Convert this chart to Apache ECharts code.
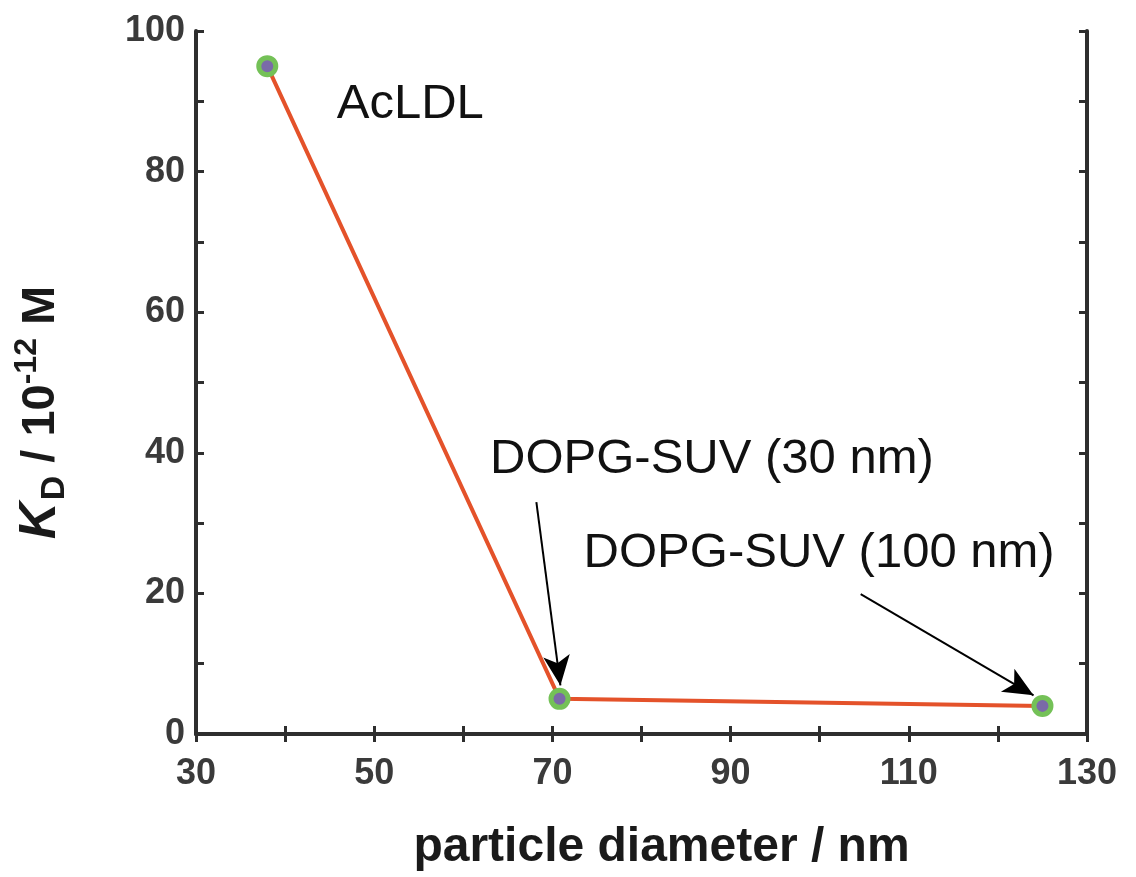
<!DOCTYPE html>
<html><head><meta charset="utf-8">
<script src="https://cdn.jsdelivr.net/npm/echarts@6/dist/echarts.min.js"></script>
<style>html,body{margin:0;padding:0;background:#fff}#c{width:1136px;height:877px}</style>
</head><body><div id="c"></div>
<script>
// Data
const diameters = [38, 70.8, 125];
const kdValues = [95, 5, 4];
const xTicks = [30, 50, 70, 90, 110, 130];
const yTicks = [0, 20, 40, 60, 80, 100];
const annotations = [
  { text: 'AcLDL', x: 45.8, y: 89.5 },
  { text: 'DOPG-SUV (30 nm)', x: 63.0, y: 39.1 },
  { text: 'DOPG-SUV (100 nm)', x: 73.5, y: 25.7 }
];
const arrows = [
  { from: [68.2, 33.0], to: [70.9, 6.9] },
  { from: [104.6, 19.9], to: [124.0, 5.5] }
];

const axisColor = '#2e2e2e';
const labelColor = '#3a3a3a';
const font = 'Liberation Sans, Arial, sans-serif';

const chart = echarts.init(document.getElementById('c'));
const baseX = {
  type: 'value', min: 30, max: 130, interval: 10,
  axisLine: { show: true, lineStyle: { color: axisColor, width: 4 } },
  axisTick: { show: true, inside: true, length: 8, lineStyle: { color: axisColor, width: 3 } },
  splitLine: { show: false }
};
const baseY = {
  type: 'value', min: 0, max: 100, interval: 10,
  axisLine: { show: true, lineStyle: { color: axisColor, width: 4 } },
  axisTick: { show: true, inside: true, length: 8, lineStyle: { color: axisColor, width: 3 } },
  splitLine: { show: false }
};

chart.setOption({
  animation: false,
  backgroundColor: '#fff',
  grid: { left: 196, right: 49, top: 31, bottom: 138, containLabel: false },
  xAxis: [
    Object.assign({}, baseX, {
      position: 'bottom',
      axisLabel: {
        show: true, margin: 22, color: labelColor, fontSize: 36, fontWeight: 'bold', fontFamily: font,
        formatter: v => xTicks.includes(v) ? String(v) : ''
      },
      name: 'particle diameter / nm', nameLocation: 'middle', nameGap: 90,
      nameTextStyle: { color: '#1a1a1a', fontSize: 48, fontWeight: 'bold', fontFamily: font, padding: [0, 0, 0, 40] }
    }),
    Object.assign({}, baseX, { position: 'top', axisLabel: { show: false } })
  ],
  yAxis: [
    Object.assign({}, baseY, {
      position: 'left',
      axisLabel: {
        show: true, margin: 11, color: labelColor, fontSize: 36, fontWeight: 'bold', fontFamily: font,
        formatter: v => yTicks.includes(v) ? String(v) : ''
      },
      name: '{k|K}{sub|D}{n| / 10}{sup|-12}{n| M}',
      nameLocation: 'middle', nameRotate: 90, nameGap: 124,
      nameTextStyle: {
        color: '#1a1a1a', fontFamily: font, padding: [0, 60, 0, 0],
        rich: {
          k: { fontSize: 51, fontWeight: 'bold', fontStyle: 'italic', fontFamily: font, color: '#1a1a1a' },
          sub: { fontSize: 34, fontWeight: 'bold', fontFamily: font, color: '#1a1a1a', padding: [28, 0, 0, 2] },
          n: { fontSize: 47, fontWeight: 'bold', fontFamily: font, color: '#1a1a1a' },
          sup: { fontSize: 32, fontWeight: 'bold', fontFamily: font, color: '#1a1a1a', padding: [0, 0, 28, 0] }
        }
      }
    }),
    Object.assign({}, baseY, { position: 'right', axisLabel: { show: false } })
  ],
  series: [{
    type: 'line',
    xAxisIndex: 0, yAxisIndex: 0,
    data: diameters.map((d, i) => [d, kdValues[i]]),
    lineStyle: { color: '#e4522a', width: 4 },
    symbol: 'circle', symbolSize: 17,
    itemStyle: { color: '#7a6aa8', borderColor: '#74c157', borderWidth: 5 },
    z: 3,
    markPoint: {
      symbol: 'circle', symbolSize: 0, silent: true,
      label: {
        show: true, position: 'right', distance: 0, color: '#111', fontSize: 49, fontFamily: font,
        formatter: p => p.name
      },
      data: annotations.map(a => ({ name: a.text, coord: [a.x, a.y] }))
    },
    markLine: {
      silent: true, symbol: ['none', 'arrow'], symbolSize: [20, 30],
      label: { show: false },
      lineStyle: { color: '#000', width: 2, type: 'solid' },
      data: arrows.map(a => [{ coord: a.from }, { coord: a.to }])
    }
  }]
});
</script></body></html>
